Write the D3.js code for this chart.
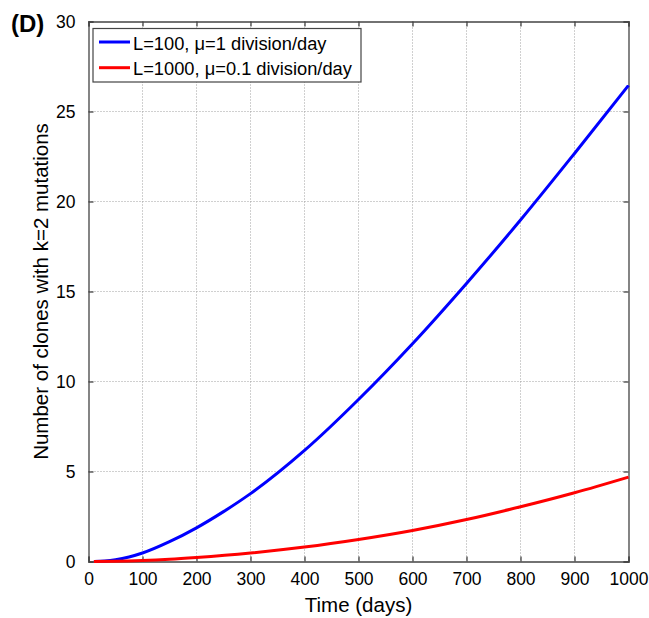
<!DOCTYPE html>
<html><head><meta charset="utf-8">
<script src="https://cdn.jsdelivr.net/npm/d3@7"></script>
<style>body{margin:0;background:#fff}svg{display:block}text{font-family:"Liberation Sans",Arial,sans-serif;fill:#000}</style>
</head><body>
<script>
const tBlue = [10,30,50,75,100,150,200,250,300,400,500,600,700,800,900,1000];
const vBlue = [0,0.03,0.1,0.25,0.47,1.1,1.87,2.77,3.77,6.17,9.0,12.1,15.45,18.97,22.67,26.45];
const tRed = [10,50,100,150,200,300,400,500,600,700,800,900,1000];
const vRed = [0,0.01,0.05,0.12,0.22,0.47,0.8,1.22,1.72,2.33,3.04,3.82,4.69];
const xTicks = [0,100,200,300,400,500,600,700,800,900,1000];
const yTicks = [0,5,10,15,20,25,30];
const legendLabels = ["L=100, \u03bc=1 division/day","L=1000, \u03bc=0.1 division/day"];
const colors = ["#0000ff","#ff0000"];

const W=649,H=618, L=88.5,R=628.5,T=21.5,B=561.5;
const svg=d3.select("body").append("svg").attr("width",W).attr("height",H);
const x=d3.scaleLinear().domain([0,1000]).range([L,R]);
const y=d3.scaleLinear().domain([0,30]).range([B,T]);

// grid
const g=svg.append("g");
g.selectAll(".gx").data(xTicks.slice(1,-1)).join("line")
 .attr("x1",d=>x(d)).attr("x2",d=>x(d)).attr("y1",T).attr("y2",B)
 .attr("stroke","#a0a0a0").attr("stroke-width",1).attr("stroke-dasharray","1,2");
g.selectAll(".gy").data(yTicks.slice(1,-1)).join("line")
 .attr("y1",d=>y(d)).attr("y2",d=>y(d)).attr("x1",L).attr("x2",R)
 .attr("stroke","#a0a0a0").attr("stroke-width",1).attr("stroke-dasharray","1,2");

// axes with inward ticks
const ax=svg.append("g").attr("transform",`translate(0,${B})`)
 .call(d3.axisBottom(x).tickValues(xTicks).tickSize(-5).tickPadding(11).tickFormat(d3.format("d")));
const axTop=svg.append("g").attr("transform",`translate(0,${T})`)
 .call(d3.axisTop(x).tickValues(xTicks).tickSize(-5).tickFormat(""));
const ay=svg.append("g").attr("transform",`translate(${L},0)`)
 .call(d3.axisLeft(y).tickValues(yTicks).tickSize(-5).tickPadding(13));
const ayR=svg.append("g").attr("transform",`translate(${R},0)`)
 .call(d3.axisRight(y).tickValues(yTicks).tickSize(-5).tickFormat(""));
[ax,axTop,ay,ayR].forEach(a=>{
  a.selectAll("path").attr("stroke","#444").attr("stroke-width",1.3);
  a.selectAll("line").attr("stroke","#444").attr("stroke-width",1.3);
  a.selectAll("text").style("font-size","17.5px").style("font-family","'Liberation Sans',Arial,sans-serif").attr("fill","#000");
});

// lines
const line=d3.line().x(d=>x(d[0])).y(d=>y(d[1])).curve(d3.curveMonotoneX);
svg.append("path").datum(tBlue.map((t,i)=>[t,vBlue[i]])).attr("d",line)
 .attr("fill","none").attr("stroke",colors[0]).attr("stroke-width",3);
svg.append("path").datum(tRed.map((t,i)=>[t,vRed[i]])).attr("d",line)
 .attr("fill","none").attr("stroke",colors[1]).attr("stroke-width",3);

// legend
const lg=svg.append("g");
lg.append("rect").attr("x",93).attr("y",28.5).attr("width",268).attr("height",53.5)
 .attr("fill","#fff").attr("stroke","#444").attr("stroke-width",1.2);
legendLabels.forEach((s,i)=>{
  const yy=42+i*25.7;
  lg.append("line").attr("x1",99).attr("x2",130).attr("y1",yy).attr("y2",yy)
   .attr("stroke",colors[i]).attr("stroke-width",3);
  lg.append("text").attr("x",133).attr("y",yy+7.5).style("font-size","18.3px").text(s);
});

// labels
svg.append("text").attr("x",x(500)).attr("y",612).attr("text-anchor","middle")
 .style("font-size","20.5px").text("Time (days)");
svg.append("text").attr("transform",`translate(48,${(T+B)/2}) rotate(-90)`).attr("text-anchor","middle")
 .style("font-size","20.5px").text("Number of clones with k=2 mutations");
svg.append("text").attr("x",11).attr("y",32).style("font-size","24px").style("font-weight","bold").text("(D)");
</script>
</body></html>
